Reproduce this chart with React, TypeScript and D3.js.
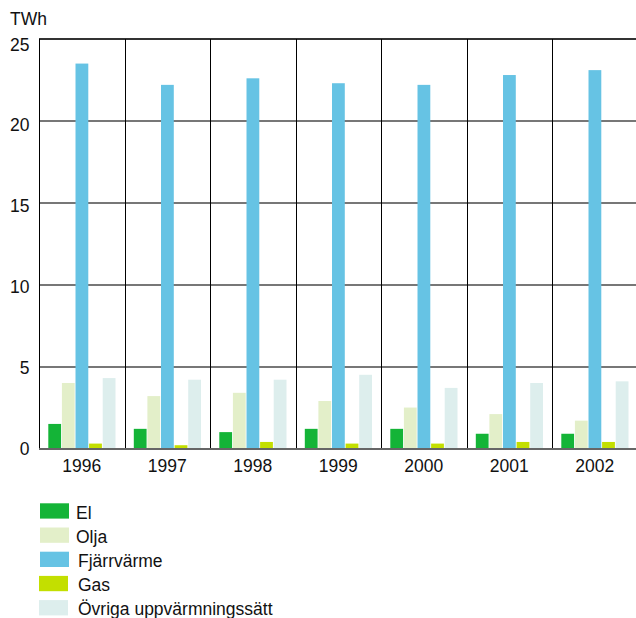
import React from "react";
import * as d3 from "d3";

const years = ["1996", "1997", "1998", "1999", "2000", "2001", "2002"];
const seriesNames = ["El", "Olja", "Fjärrvärme", "Gas", "Övriga uppvärmningssätt"];
const seriesColors = ["#14b437", "#e3efc9", "#66c3e4", "#c3df00", "#ddeeed"];

const el = [1.5, 1.2, 1.0, 1.2, 1.2, 0.9, 0.9];
const olja = [4.0, 3.2, 3.4, 2.9, 2.5, 2.1, 1.7];
const fjarrvarme = [23.5, 22.2, 22.6, 22.3, 22.2, 22.8, 23.1];
const gas = [0.3, 0.2, 0.4, 0.3, 0.3, 0.4, 0.4];
const ovriga = [4.3, 4.2, 4.2, 4.5, 3.7, 4.0, 4.1];

const yTicks = [0, 5, 10, 15, 20, 25];
const unitLabel = "TWh";

const seriesValues = [el, olja, fjarrvarme, gas, ovriga];

const W = 636;
const H = 618;
const plotLeft = 39;
const plotRight = 637.5;
const plotTop = 39;
const plotBottom = 448.5;
const font = "'Liberation Sans', Arial, Helvetica, sans-serif";
const fs = 17.5;

export default function App() {
  const x = d3.scaleBand<string>().domain(years).range([plotLeft, plotRight]).padding(0);
  const xs = d3
    .scaleBand<string>()
    .domain(seriesNames)
    .range([9.3, 76.5])
    .paddingInner(0.06)
    .paddingOuter(0);
  const y = d3.scaleLinear().domain([0, 25]).range([plotBottom, plotTop]);
  // tick labels sit on a slightly compressed scale of their own (baselines)
  const yLabel = d3.scaleLinear().domain([0, 25]).range([455.3, 50.5]);
  const crisp = (v: number) => Math.round(v) + 0.5;

  return (
    <svg
      width={W}
      height={H}
      style={{ position: "fixed", left: 0, top: 0, background: "#fff" }}
      fontFamily={font}
    >
      <text x={10} y={25} fontSize={fs} fill="#111">
        {unitLabel}
      </text>

      {/* horizontal grid lines */}
      {yTicks.map((t) => (
        <line
          key={"h" + t}
          x1={plotLeft}
          x2={W}
          y1={Math.round(y(t))}
          y2={Math.round(y(t))}
          stroke={t === 25 ? "#333" : "#777"}
          strokeWidth={2}
        />
      ))}

      {/* vertical separators between years */}
      {years.map((yr) => (
        <line
          key={"v" + yr}
          x1={crisp(x(yr)!)}
          x2={crisp(x(yr)!)}
          y1={plotTop}
          y2={plotBottom}
          stroke="#000"
          strokeWidth={1}
        />
      ))}

      {/* bars */}
      {years.map((yr, i) => (
        <g key={"g" + yr} transform={`translate(${x(yr)},0)`}>
          {seriesNames.map((s, j) => {
            const v = seriesValues[j][i];
            return (
              <rect
                key={s}
                x={xs(s)!}
                y={y(v)}
                width={xs.bandwidth()}
                height={plotBottom - y(v)}
                fill={seriesColors[j]}
              />
            );
          })}
        </g>
      ))}

      {/* baseline over bars */}
      <line
        x1={plotLeft}
        x2={W}
        y1={Math.round(plotBottom)}
        y2={Math.round(plotBottom)}
        stroke="#666"
        strokeWidth={2}
      />

      {/* y tick labels */}
      {yTicks.map((t) => (
        <text key={"yl" + t} x={29.5} y={yLabel(t)} textAnchor="end" fontSize={fs} fill="#111">
          {t}
        </text>
      ))}

      {/* x labels */}
      {years.map((yr) => (
        <text
          key={"xl" + yr}
          x={x(yr)! + x.bandwidth() / 2}
          y={471.5}
          textAnchor="middle"
          fontSize={fs}
          fill="#111"
        >
          {yr}
        </text>
      ))}

      {/* legend */}
      {seriesNames.map((s, j) => {
        const top = 503.3 + j * 24.2;
        return (
          <g key={"lg" + s}>
            <rect x={j < 3 ? 40 : 39} y={top} width={29} height={15.3} fill={seriesColors[j]} />
            <text x={j < 2 ? 76 : 78} y={top + 15.3} fontSize={fs} fill="#111">
              {s}
            </text>
          </g>
        );
      })}
    </svg>
  );
}
